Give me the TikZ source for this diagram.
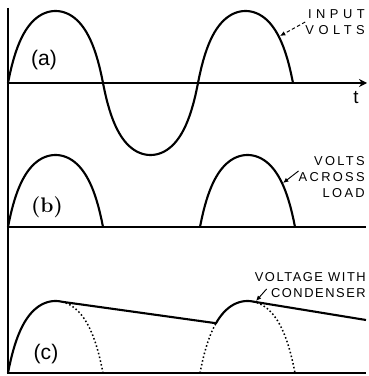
\documentclass[tikz,border=0pt]{standalone}
\usepackage{fontspec}
\usetikzlibrary{arrows.meta, calc}
\setsansfont{Liberation Sans}
\newfontfamily\capsfont{Liberation Sans}
\tikzset{
  wave/.style={line width=1.8pt, line join=round},
  ghost/.style={line width=1.3pt, dotted},
  axisline/.style={line width=1.2pt},
  tag/.style={font=\sffamily\fontsize{18}{20}\selectfont, inner sep=0pt},
  capslbl/.style={font=\capsfont\addfontfeature{LetterSpace=#1}\fontsize{11}{14}\selectfont,
    align=right, inner sep=0pt, anchor=east},
  ptr/.style={-{Latex[length=1.6mm, width=1.4mm]}, line width=0.8pt},
  declare function={hump(\t)=2.2*sin(\t)/(1+1.2*abs(sin(\t)));},
}

\begin{document}
\begin{tikzpicture}[x=0.03cm, y=-0.03cm]
  \useasboundingbox (0,0) rectangle (368,376);
  % axes
  \draw[axisline] (8,8) -- (8,373) -- (366,373);
  \draw[axisline, -{Stealth[length=2.4mm, width=2.4mm]}] (8,83) -- (367,83);
  \draw[axisline] (8,227) -- (366,227);
  % (a) input volts
  \draw[wave] plot[domain=8:293, samples=150] (\x, {83-72*hump((\x-8)/95*180)});
  % (b) half waves across the load
  \foreach \s/\e in {8/103, 200/295}
    \draw[wave] plot[domain=\s:\e, samples=60] (\x, {227-72*hump((\x-\s)/95*180)});
  % (c) with condenser
  \draw[wave] plot[domain=8:62, samples=40] (\x, {373-72*hump((\x-8)/95*180)})
    -- plot[domain=216:253, samples=30] (\x, {373-72*hump((\x-200)/95*180)}) -- (366,320);
  \draw[ghost] plot[domain=62:103, samples=30] (\x, {373-72*hump((\x-8)/95*180)});
  \draw[ghost] plot[domain=200:216, samples=12] (\x, {373-72*hump((\x-200)/95*180)});
  \draw[ghost] plot[domain=253:295, samples=30] (\x, {373-72*hump((\x-200)/95*180)});
  % labels
  \node[tag] (taga) at (44,60) {(a)};
  \node[tag, font=\rmfamily\bfseries\fontsize{18}{20}\selectfont] (tagb) at (47,207) {(b)};
  \node[tag] (tagc) at (46,354) {(c)};
  \node[tag, font=\sffamily\fontsize{16}{18}\selectfont] (tlbl) at (356,98) {t};
  \node[capslbl=35] (inlbl) at (365,22) {INPUT\\VOLTS};
  \node[capslbl=18] (loadlbl) at (365,177) {VOLTS\\ACROSS\\LOAD};
  \node[capslbl=12] (condlbl) at (366,285) {VOLTAGE WITH\\CONDENSER};
  % pointers
  \coordinate (inpt) at (280,36);
  \coordinate (loadpt) at (283,183);
  \coordinate (condpt) at (256,301);
  \draw[ptr, densely dashed] (inlbl.west) -- (inpt);
  \draw[ptr] ($(loadlbl.west)+(0,-6)$) -- (loadpt);
  \draw[ptr] ($(condlbl.west)+(12,4)$) -- (condpt);
\end{tikzpicture}
\end{document}
